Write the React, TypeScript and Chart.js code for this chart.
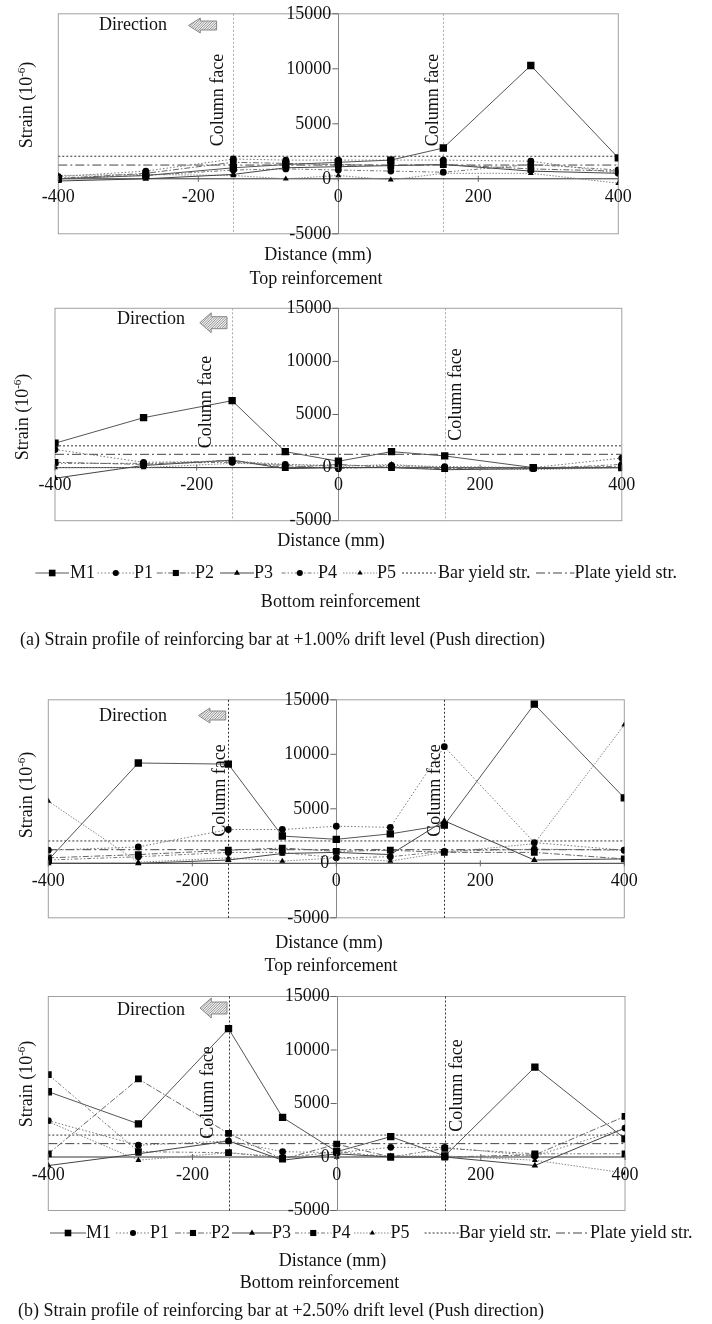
import React, { useEffect, useRef } from "react";
import { Chart, registerables } from "chart.js";

Chart.register(...registerables);

// ---------- data ----------
const DISTANCE = [-400, -275, -150, -75, 0, 75, 150, 275, 400];
const X_TICKS = [-400, -200, 0, 200, 400];
const Y_TICKS = [15000, 10000, 5000, 0, -5000];
const COLUMN_FACES = [-150, 150];
const BAR_YIELD = 2050;
const PLATE_YIELD = 1250;
const SERIES_NAMES = ["M1", "P1", "P2", "P3", "P4", "P5"];
const YIELD_NAMES = ["Bar yield str.", "Plate yield str."];

// (a) +1.00% drift, top reinforcement
const A_TOP_M1 = [0, 300, 1000, 1300, 1500, 1700, 2800, 10300, 1900];
const A_TOP_P1 = [200, 700, 1800, 1700, 1700, 1700, 1700, 1600, 500];
const A_TOP_P2 = [0, 500, 1500, 1400, 1300, 1200, 1300, 900, 700];
const A_TOP_P3 = [-200, 0, 400, 1000, 1100, 1200, 1300, 700, 500];
const A_TOP_P4 = [100, 300, 800, 900, 800, 700, 600, 1300, 800];
const A_TOP_P5 = [300, 400, 300, 0, 300, -100, 500, 500, -400];

// (a) +1.00% drift, bottom reinforcement
const A_BOT_M1 = [2300, 4700, 6300, 1500, 600, 1500, 1100, 0, 0];
const A_BOT_P1 = [1700, 500, 600, 300, 200, 200, 100, 0, 900];
const A_BOT_P2 = [500, 300, 700, 0, 300, 0, -100, 0, 100];
const A_BOT_P3 = [-1000, 200, 700, -100, 0, 0, -200, -100, 0];
const A_BOT_P4 = [400, 400, 500, 200, -100, 100, 0, -100, 300];
const A_BOT_P5 = [0, 0, 400, 300, 100, 300, 0, -200, 0];

// (b) +2.50% drift, top reinforcement
const B_TOP_M1 = [300, 9200, 9100, 2500, 2200, 2700, 3500, 14600, 6000];
const B_TOP_P1 = [1200, 1500, 3100, 3100, 3400, 3300, 10700, 1900, 1200];
const B_TOP_P2 = [500, 800, 1200, 1400, 1100, 1200, 1000, 1000, 400];
const B_TOP_P3 = [0, 0, 300, 900, 1000, 800, 3900, 300, 400];
const B_TOP_P4 = [300, 600, 1000, 1000, 500, 600, 1100, 1300, 1200];
const B_TOP_P5 = [5700, 100, 500, 200, 500, 200, 1000, 1800, 12700];

// (b) +2.50% drift, bottom reinforcement
const B_BOT_M1 = [6100, 3100, 12000, 3700, 500, 1900, 100, 8400, 1700];
const B_BOT_P1 = [3400, 1100, 1500, 500, 400, 900, 900, 100, 2700];
const B_BOT_P2 = [300, 7300, 2200, -200, 1200, 0, 0, 200, 3800];
const B_BOT_P3 = [-800, 300, 1500, -300, 300, 0, 0, -800, 2700];
const B_BOT_P4 = [7700, 500, 400, -100, 500, 0, 800, 300, 300];
const B_BOT_P5 = [3300, -300, 400, 0, 0, 100, 100, -300, -1500];

// ---------- styles ----------
const FONT = "'Liberation Serif', 'Times New Roman', serif";
type SeriesStyle = { color: string; dash: number[]; point: string; r: number };
const SERIES_STYLES: SeriesStyle[] = [
  { color: "#555", dash: [], point: "rect", r: 5.2 },
  { color: "#777", dash: [1.5, 2], point: "circle", r: 3.4 },
  { color: "#666", dash: [6, 2, 1.5, 2], point: "rect", r: 4.8 },
  { color: "#444", dash: [], point: "triangle", r: 3.8 },
  { color: "#777", dash: [4, 2, 1.5, 2, 1.5, 2], point: "circle", r: 3.4 },
  { color: "#888", dash: [1.5, 1.5], point: "triangle", r: 3.4 },
];
const YIELD_STYLES = [
  { color: "#333", dash: [2, 2] },
  { color: "#444", dash: [9, 3, 2, 3] },
];

type Panel = {
  height: number;
  series: number[][];
  p4Point?: string;
  area: { left: number; right: number; top: number; bottom: number };
  faceColor: string;
  zeroColor: string;
  zeroWidth: number;
  direction: { tx: number; ty: number; ax0: number; ax1: number; ay0: number; ay1: number };
  faceText: { x: number; y: number }[];
  yTitle: { x: number; y: number };
  texts: { text: string; x: number; y: number; align: CanvasTextAlign }[];
  legend?: { y: number; items: { s: number; e: number; t: number }[] };
};

const PANELS: Panel[] = [
  {
    height: 290,
    series: [A_TOP_M1, A_TOP_P1, A_TOP_P2, A_TOP_P3, A_TOP_P4, A_TOP_P5],
    area: { left: 58.3, right: 618.3, top: 13.8, bottom: 233.8 },
    faceColor: "#aaa",
    zeroColor: "#333",
    zeroWidth: 1,
    direction: { tx: 99, ty: 25, ax0: 188.5, ax1: 216.6, ay0: 18, ay1: 33 },
    faceText: [{ x: 223, y: 100 }, { x: 438, y: 100 }],
    yTitle: { x: 32, y: 105 },
    texts: [
      { text: "Distance (mm)", x: 318, y: 255, align: "center" },
      { text: "Top reinforcement", x: 316, y: 279, align: "center" },
    ],
  },
  {
    height: 400,
    series: [A_BOT_M1, A_BOT_P1, A_BOT_P2, A_BOT_P3, A_BOT_P4, A_BOT_P5],
    area: { left: 55, right: 621.8, top: 18.3, bottom: 230.7 },
    faceColor: "#aaa",
    zeroColor: "#333",
    zeroWidth: 1,
    direction: { tx: 117, ty: 29.3, ax0: 199.8, ax1: 227, ay0: 22.7, ay1: 42.7 },
    faceText: [{ x: 211, y: 112 }, { x: 461, y: 104.5 }],
    yTitle: { x: 28, y: 127 },
    texts: [
      { text: "Distance (mm)", x: 331, y: 251.7, align: "center" },
      { text: "Bottom reinforcement", x: 340.6, y: 312.3, align: "center" },
      { text: "(a) Strain profile of reinforcing bar at +1.00% drift level (Push direction)", x: 20, y: 350, align: "left" },
    ],
    legend: {
      y: 283,
      items: [
        { s: 35.4, e: 69, t: 70 },
        { s: 97.6, e: 134, t: 134 },
        { s: 156.7, e: 195, t: 195 },
        { s: 220, e: 254, t: 254 },
        { s: 281.6, e: 318, t: 318 },
        { s: 343, e: 377, t: 377 },
        { s: 402, e: 438, t: 438 },
        { s: 536, e: 574.5, t: 574.5 },
      ],
    },
  },
  {
    height: 295,
    series: [B_TOP_M1, B_TOP_P1, B_TOP_P2, B_TOP_P3, B_TOP_P4, B_TOP_P5],
    area: { left: 48.3, right: 624.3, top: 9.8, bottom: 227.8 },
    faceColor: "#333",
    zeroColor: "#333",
    zeroWidth: 1,
    direction: { tx: 99, ty: 26, ax0: 198.5, ax1: 225.7, ay0: 18, ay1: 33 },
    faceText: [{ x: 225, y: 100.5 }, { x: 439.6, y: 100.5 }],
    yTitle: { x: 32, y: 105 },
    texts: [
      { text: "Distance (mm)", x: 329, y: 253.3, align: "center" },
      { text: "Top reinforcement", x: 331, y: 276.7, align: "center" },
    ],
  },
  {
    height: 339,
    series: [B_BOT_M1, B_BOT_P1, B_BOT_P2, B_BOT_P3, B_BOT_P4, B_BOT_P5],
    p4Point: "rect",
    area: { left: 48.3, right: 625, top: 11.5, bottom: 225.5 },
    faceColor: "#333",
    zeroColor: "#999",
    zeroWidth: 2,
    direction: { tx: 117, ty: 25, ax0: 200, ax1: 227, ay0: 13, ay1: 33 },
    faceText: [{ x: 213, y: 107.5 }, { x: 462, y: 100.5 }],
    yTitle: { x: 32, y: 99 },
    texts: [
      { text: "Distance (mm)", x: 332.6, y: 276.7, align: "center" },
      { text: "Bottom reinforcement", x: 319.5, y: 298.3, align: "center" },
      { text: "(b) Strain profile of reinforcing bar at +2.50% drift level (Push direction)", x: 18, y: 326.7, align: "left" },
    ],
    legend: {
      y: 248,
      items: [
        { s: 50, e: 86, t: 86 },
        { s: 116, e: 150, t: 150 },
        { s: 175, e: 211, t: 211 },
        { s: 232, e: 272, t: 272 },
        { s: 295, e: 331.5, t: 331.5 },
        { s: 354, e: 390.6, t: 390.6 },
        { s: 424.6, e: 458.7, t: 458.7 },
        { s: 556, e: 590, t: 590 },
      ],
    },
  },
];

// ---------- drawing helpers ----------
function line(ctx: CanvasRenderingContext2D, x1: number, y1: number, x2: number, y2: number) {
  ctx.beginPath();
  ctx.moveTo(x1, y1);
  ctx.lineTo(x2, y2);
  ctx.stroke();
}

function marker(ctx: CanvasRenderingContext2D, style: string, r: number, x: number, y: number) {
  ctx.save();
  ctx.setLineDash([]);
  ctx.fillStyle = "#000";
  ctx.beginPath();
  if (style === "rect") {
    const s = r * Math.SQRT1_2;
    ctx.rect(x - s, y - s, 2 * s, 2 * s);
  } else if (style === "triangle") {
    ctx.moveTo(x, y - r);
    ctx.lineTo(x + r * 0.866, y + r * 0.5);
    ctx.lineTo(x - r * 0.866, y + r * 0.5);
    ctx.closePath();
  } else {
    ctx.arc(x, y, r, 0, Math.PI * 2);
  }
  ctx.fill();
  ctx.restore();
}

function text(ctx: CanvasRenderingContext2D, s: string, x: number, y: number, align: CanvasTextAlign = "left", size = 18) {
  ctx.font = `${size}px ${FONT}`;
  ctx.fillStyle = "#111";
  ctx.textAlign = align;
  ctx.textBaseline = "middle";
  ctx.fillText(s, x, y);
}

function rotatedText(ctx: CanvasRenderingContext2D, s: string, x: number, y: number) {
  ctx.save();
  ctx.translate(x, y);
  ctx.rotate(-Math.PI / 2);
  ctx.font = `18px ${FONT}`;
  ctx.fillStyle = "#111";
  ctx.textAlign = "center";
  ctx.textBaseline = "alphabetic";
  ctx.fillText(s, 0, 0);
  ctx.restore();
}

function yTitle(ctx: CanvasRenderingContext2D, x: number, y: number) {
  ctx.save();
  ctx.translate(x, y);
  ctx.rotate(-Math.PI / 2);
  ctx.fillStyle = "#111";
  ctx.textBaseline = "alphabetic";
  ctx.textAlign = "left";
  const main = "Strain (10";
  const sup = "-6";
  const end = ")";
  ctx.font = `18px ${FONT}`;
  const w1 = ctx.measureText(main).width;
  const w3 = ctx.measureText(end).width;
  ctx.font = `11px ${FONT}`;
  const w2 = ctx.measureText(sup).width;
  let cx = -(w1 + w2 + w3) / 2;
  ctx.font = `18px ${FONT}`;
  ctx.fillText(main, cx, 0);
  cx += w1;
  ctx.font = `11px ${FONT}`;
  ctx.fillText(sup, cx, -7);
  cx += w2;
  ctx.font = `18px ${FONT}`;
  ctx.fillText(end, cx, 0);
  ctx.restore();
}

function arrowPath(ctx: CanvasRenderingContext2D, x0: number, x1: number, y0: number, y1: number) {
  const mid = (y0 + y1) / 2;
  const hl = (x1 - x0) * 0.42;
  const sh = (y1 - y0) * 0.3;
  ctx.beginPath();
  ctx.moveTo(x0, mid);
  ctx.lineTo(x0 + hl, y0);
  ctx.lineTo(x0 + hl, mid - sh);
  ctx.lineTo(x1, mid - sh);
  ctx.lineTo(x1, mid + sh);
  ctx.lineTo(x0 + hl, mid + sh);
  ctx.lineTo(x0 + hl, y1);
  ctx.closePath();
}

function arrow(ctx: CanvasRenderingContext2D, x0: number, x1: number, y0: number, y1: number) {
  ctx.save();
  ctx.setLineDash([]);
  arrowPath(ctx, x0, x1, y0, y1);
  ctx.fillStyle = "#ececec";
  ctx.fill();
  ctx.save();
  arrowPath(ctx, x0, x1, y0, y1);
  ctx.clip();
  ctx.strokeStyle = "#9a9a9a";
  ctx.lineWidth = 1;
  for (let k = x0 - 30; k < x1 + 30; k += 2.5) line(ctx, k, y1, k + (y1 - y0), y0);
  ctx.restore();
  arrowPath(ctx, x0, x1, y0, y1);
  ctx.strokeStyle = "#888";
  ctx.lineWidth = 1;
  ctx.stroke();
  ctx.restore();
}

function seriesStyle(panel: Panel, i: number): SeriesStyle {
  const st = SERIES_STYLES[i];
  if (i === 4 && panel.p4Point) return { ...st, point: panel.p4Point, r: 4.8 };
  return st;
}

function makePlugin(panel: Panel) {
  return {
    id: "panelDecor",
    beforeDatasetsDraw(chart: any) {
      const { ctx, chartArea: a, scales } = chart;
      const xs = scales.x;
      const ys = scales.y;
      ctx.save();
      ctx.lineWidth = 1;
      ctx.strokeStyle = "#a0a0a0";
      ctx.strokeRect(a.left, a.top, a.right - a.left, a.bottom - a.top);
      ctx.setLineDash([2, 2]);
      ctx.strokeStyle = panel.faceColor;
      for (const f of COLUMN_FACES) {
        const px = Math.round(xs.getPixelForValue(f)) + 0.5;
        line(ctx, px, a.top, px, a.bottom);
      }
      ctx.setLineDash([]);
      const x0 = Math.round(xs.getPixelForValue(0)) + 0.5;
      ctx.strokeStyle = "#888";
      line(ctx, x0, a.top, x0, a.bottom);
      const y0 = ys.getPixelForValue(0);
      ctx.strokeStyle = panel.zeroColor;
      ctx.lineWidth = panel.zeroWidth;
      line(ctx, a.left, y0, a.right, y0);
      ctx.restore();
    },
    afterDatasetsDraw(chart: any) {
      const { ctx, scales } = chart;
      const xs = scales.x;
      const ys = scales.y;
      const x0 = xs.getPixelForValue(0);
      const y0 = ys.getPixelForValue(0);
      ctx.save();
      ctx.strokeStyle = "#666";
      ctx.lineWidth = 1;
      // y ticks
      for (const v of Y_TICKS) {
        const py = ys.getPixelForValue(v);
        line(ctx, x0 - 6, py, x0, py);
        text(ctx, String(v), x0 - 7, py, "right");
      }
      // x ticks
      for (const v of X_TICKS) {
        const px = xs.getPixelForValue(v);
        line(ctx, px, y0 - 3, px, y0 + 3);
        text(ctx, String(v), px, y0 + 18, "center");
      }
      // direction
      const d = panel.direction;
      text(ctx, "Direction", d.tx, d.ty, "left");
      arrow(ctx, d.ax0, d.ax1, d.ay0, d.ay1);
      // column face labels
      for (const f of panel.faceText) rotatedText(ctx, "Column face", f.x, f.y);
      yTitle(ctx, panel.yTitle.x, panel.yTitle.y);
      for (const t of panel.texts) text(ctx, t.text, t.x, t.y, t.align);
      // legend
      if (panel.legend) {
        const L = panel.legend;
        L.items.forEach((it, i) => {
          ctx.save();
          ctx.lineWidth = 1;
          let name: string;
          if (i < 6) {
            const st = seriesStyle(panel, i);
            ctx.strokeStyle = st.color;
            ctx.setLineDash(st.dash);
            line(ctx, it.s, L.y, it.e, L.y);
            marker(ctx, st.point, st.r * 0.9, (it.s + it.e) / 2, L.y);
            name = SERIES_NAMES[i];
          } else {
            const st = YIELD_STYLES[i - 6];
            ctx.strokeStyle = st.color;
            ctx.setLineDash(st.dash);
            line(ctx, it.s, L.y, it.e, L.y);
            name = YIELD_NAMES[i - 6];
          }
          ctx.restore();
          text(ctx, name, it.t, L.y, "left");
        });
      }
      ctx.restore();
    },
  };
}

function PanelChart({ panel }: { panel: Panel }) {
  const ref = useRef<HTMLCanvasElement | null>(null);
  useEffect(() => {
    if (!ref.current) return;
    const a = panel.area;
    const datasets: any[] = panel.series.map((vals, i) => {
      const st = seriesStyle(panel, i);
      return {
        label: SERIES_NAMES[i],
        data: DISTANCE.map((x, k) => ({ x, y: vals[k] })),
        borderColor: st.color,
        borderWidth: 1,
        borderDash: st.dash,
        pointStyle: st.point,
        pointRadius: st.r,
        pointBackgroundColor: "#000",
        pointBorderColor: "#000",
        pointBorderWidth: 0,
        tension: 0,
        fill: false,
      };
    });
    [BAR_YIELD, PLATE_YIELD].forEach((v, i) => {
      datasets.push({
        label: YIELD_NAMES[i],
        data: [
          { x: -400, y: v },
          { x: 400, y: v },
        ],
        borderColor: YIELD_STYLES[i].color,
        borderWidth: 1,
        borderDash: YIELD_STYLES[i].dash,
        pointRadius: 0,
        fill: false,
      });
    });
    const chart = new Chart(ref.current, {
      type: "line",
      data: { datasets },
      options: {
        animation: false,
        responsive: false,
        devicePixelRatio: 1,
        layout: {
          padding: { left: a.left, right: 712 - a.right, top: a.top, bottom: panel.height - a.bottom },
        },
        scales: {
          x: { type: "linear", min: -400, max: 400, display: false },
          y: { type: "linear", min: -5000, max: 15000, display: false },
        },
        plugins: { legend: { display: false }, tooltip: { enabled: false } },
      },
      plugins: [makePlugin(panel)],
    } as any);
    return () => chart.destroy();
  }, [panel]);
  return (
    <canvas
      ref={ref}
      width={712}
      height={panel.height}
      style={{ display: "block", width: 712, height: panel.height }}
    />
  );
}

export default function App() {
  return (
    <div style={{ position: "absolute", left: 0, top: 0, width: 712, height: 1324, background: "#fff" }}>
      {PANELS.map((p, i) => (
        <PanelChart key={i} panel={p} />
      ))}
    </div>
  );
}
